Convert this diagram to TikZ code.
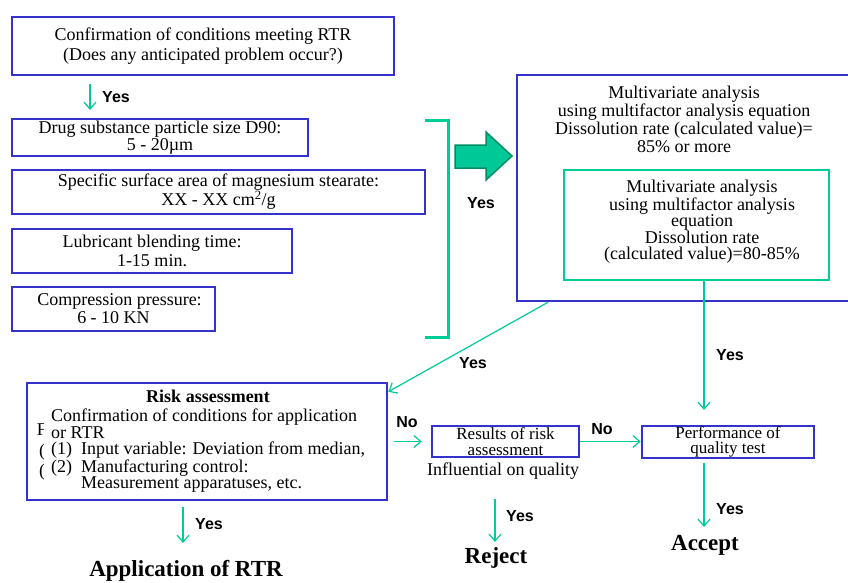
\documentclass[tikz,border=0pt]{standalone}
\usepackage{fontspec}
\setmainfont{Liberation Serif}
\newfontfamily\labelfont{Liberation Sans}
\usetikzlibrary{arrows.meta}
\definecolor{rtrblue}{RGB}{51,51,204}
\definecolor{rtrgreen}{RGB}{0,204,153}
\definecolor{arrowfill}{RGB}{0,200,150}
\definecolor{arrowedge}{RGB}{0,140,100}

\begin{document}
\begin{tikzpicture}
    [x=1pt, y=-1pt,
      bluebox/.style={draw=rtrblue, line width=2.5pt, fill=white, inner sep=0pt, align=center},
      greenbox/.style={draw=rtrgreen, line width=2.5pt, inner sep=0pt},
      flow/.style={draw=rtrgreen, line width=1.2pt, -{Straight Barb[length=7pt,width=12pt]}},
      yes/.style={font=\labelfont\bfseries\fontsize{16}{16}\selectfont},
      verdict/.style={font=\bfseries\fontsize{23}{23}\selectfont}]
    \useasboundingbox (0,0) rectangle (848,582);
    \clip (0,0) rectangle (848,582);
    % conditions on the left
    \node[bluebox, minimum width=382, minimum height=58, font=\fontsize{18}{20}\selectfont] (confirm) at (203,46)
      {Confirmation of conditions meeting RTR\\(Does any anticipated problem occur?)};
    \node[bluebox, minimum width=296, minimum height=37, font=\fontsize{18}{17}\selectfont] (drug) at (160,137.5)
      {Drug substance particle size D90:\\5 - 20µm};
    \node[bluebox, minimum width=413, minimum height=44, font=\fontsize{18}{19}\selectfont] (stearate) at (218.5,192)
      {Specific surface area of magnesium stearate:\\XX - XX cm\textsuperscript{2}/g};
    \node[bluebox, minimum width=280, minimum height=44, font=\fontsize{18}{19}\selectfont] (blending) at (152,251)
      {Lubricant blending time:\\1-15 min.};
    \node[bluebox, minimum width=203, minimum height=44, font=\fontsize{18}{18}\selectfont] (pressure) at (113.5,309)
      {\hspace*{12pt}Compression pressure:\\6 - 10 KN};
    \coordinate (tip1) at (90,110);
    \draw[flow, shorten <=8pt] (confirm.south -| tip1) -- (tip1);
    \node[yes] (yes1) at (116,97) {Yes};

    % bracket and block arrow
    \draw[rtrgreen, line width=3pt] (425,120) -- (448,120) -- (448,337) -- (425,337);
    \draw[fill=arrowfill, draw=arrowedge, line width=1.5pt]
      (455,145) -- (486,145) -- (486,132) -- (512,156) -- (486,180) -- (486,168) -- (455,168) -- cycle;
    \node[yes] (yes2) at (481,203) {Yes};

    % multivariate analysis
    \node[bluebox, minimum width=334, minimum height=226] (multi) at (684,188) {};
    \node[align=center, font=\fontsize{18}{18}\selectfont] (multitxt) at (684,119)
      {Multivariate analysis\\using multifactor analysis equation\\Dissolution rate (calculated value)=\\85\% or more};
    \node[greenbox, minimum width=265, minimum height=110] (inner) at (696.5,225) {};
    \node[align=center, font=\fontsize{18}{16.5}\selectfont] (innertxt) at (702,222)
      {Multivariate analysis\\using multifactor analysis\\equation\\Dissolution rate\\(calculated value)=80-85\%};

    % risk assessment
    \node[bluebox, minimum width=360, minimum height=117] (risk) at (207,441.5) {};
    \node[font=\bfseries\fontsize{18}{18}\selectfont] (risktitle) at (208,396) {Risk assessment};
    \node[font=\fontsize{18}{18}\selectfont] (hidden1) at (42,430) {F};
    \node[font=\fontsize{18}{18}\selectfont] (hidden2) at (42,452) {(};
    \node[font=\fontsize{18}{18}\selectfont] (hidden3) at (42,472) {(};
    \node[fill=white, inner xsep=7pt, inner ysep=1pt, anchor=west, align=left, font=\fontsize{18}{16.5}\selectfont] (risktxt) at (44,451)
      {Confirmation of conditions for application\\or RTR\\\makebox[30pt][l]{(1)}Input variable: Deviation from median,\\
       \makebox[30pt][l]{(2)}Manufacturing control:\\\hspace*{30pt}Measurement apparatuses, etc.};

    % results and tests
    \node[bluebox, minimum width=147, minimum height=31, font=\fontsize{17}{15.5}\selectfont] (results) at (505.5,441.5)
      {Results of risk\\assessment};
    \node[font=\fontsize{18}{18}\selectfont] (influential) at (503,471) {Influential on quality};
    \node[bluebox, minimum width=172, minimum height=32, font=\fontsize{17}{15.5}\selectfont] (perf) at (728,442)
      {Performance of\\quality test};
    \node[verdict] (accept) at (705,545) {Accept};
    \node[verdict] (reject) at (496,558) {Reject};
    \node[verdict] (apply) at (186,571) {Application of RTR};

    % connectors
    \draw[flow] ([xshift=-136pt]multi.south) -- ([yshift=-10pt]risk.north east);
    \node[yes] (yes3) at (473,363) {Yes};
    \coordinate (tip2) at (704,410);
    \draw[flow] (inner.south -| tip2) -- (tip2);
    \node[yes] (yes4) at (730,355) {Yes};
    \draw[flow, shorten <=6pt, shorten >=9pt] (risk.east) -- (risk.east -| results.west);
    \node[yes] (no1) at (407,422) {No};
    \draw[flow] (results.east) -- (results.east -| perf.west);
    \node[yes] (no2) at (602,429) {No};
    \coordinate (tip3) at (704,527);
    \draw[flow, shorten <=4pt] (perf.south -| tip3) -- (tip3);
    \node[yes] (yes5) at (730,509) {Yes};
    \coordinate (tip4) at (495,542);
    \draw[flow, shorten <=16pt] (influential.south -| tip4) -- (tip4);
    \node[yes] (yes6) at (520,516) {Yes};
    \coordinate (tip5) at (183,543);
    \draw[flow, shorten <=6pt] (risk.south -| tip5) -- (tip5);
    \node[yes] (yes7) at (209,524) {Yes};
\end{tikzpicture}
\end{document}
